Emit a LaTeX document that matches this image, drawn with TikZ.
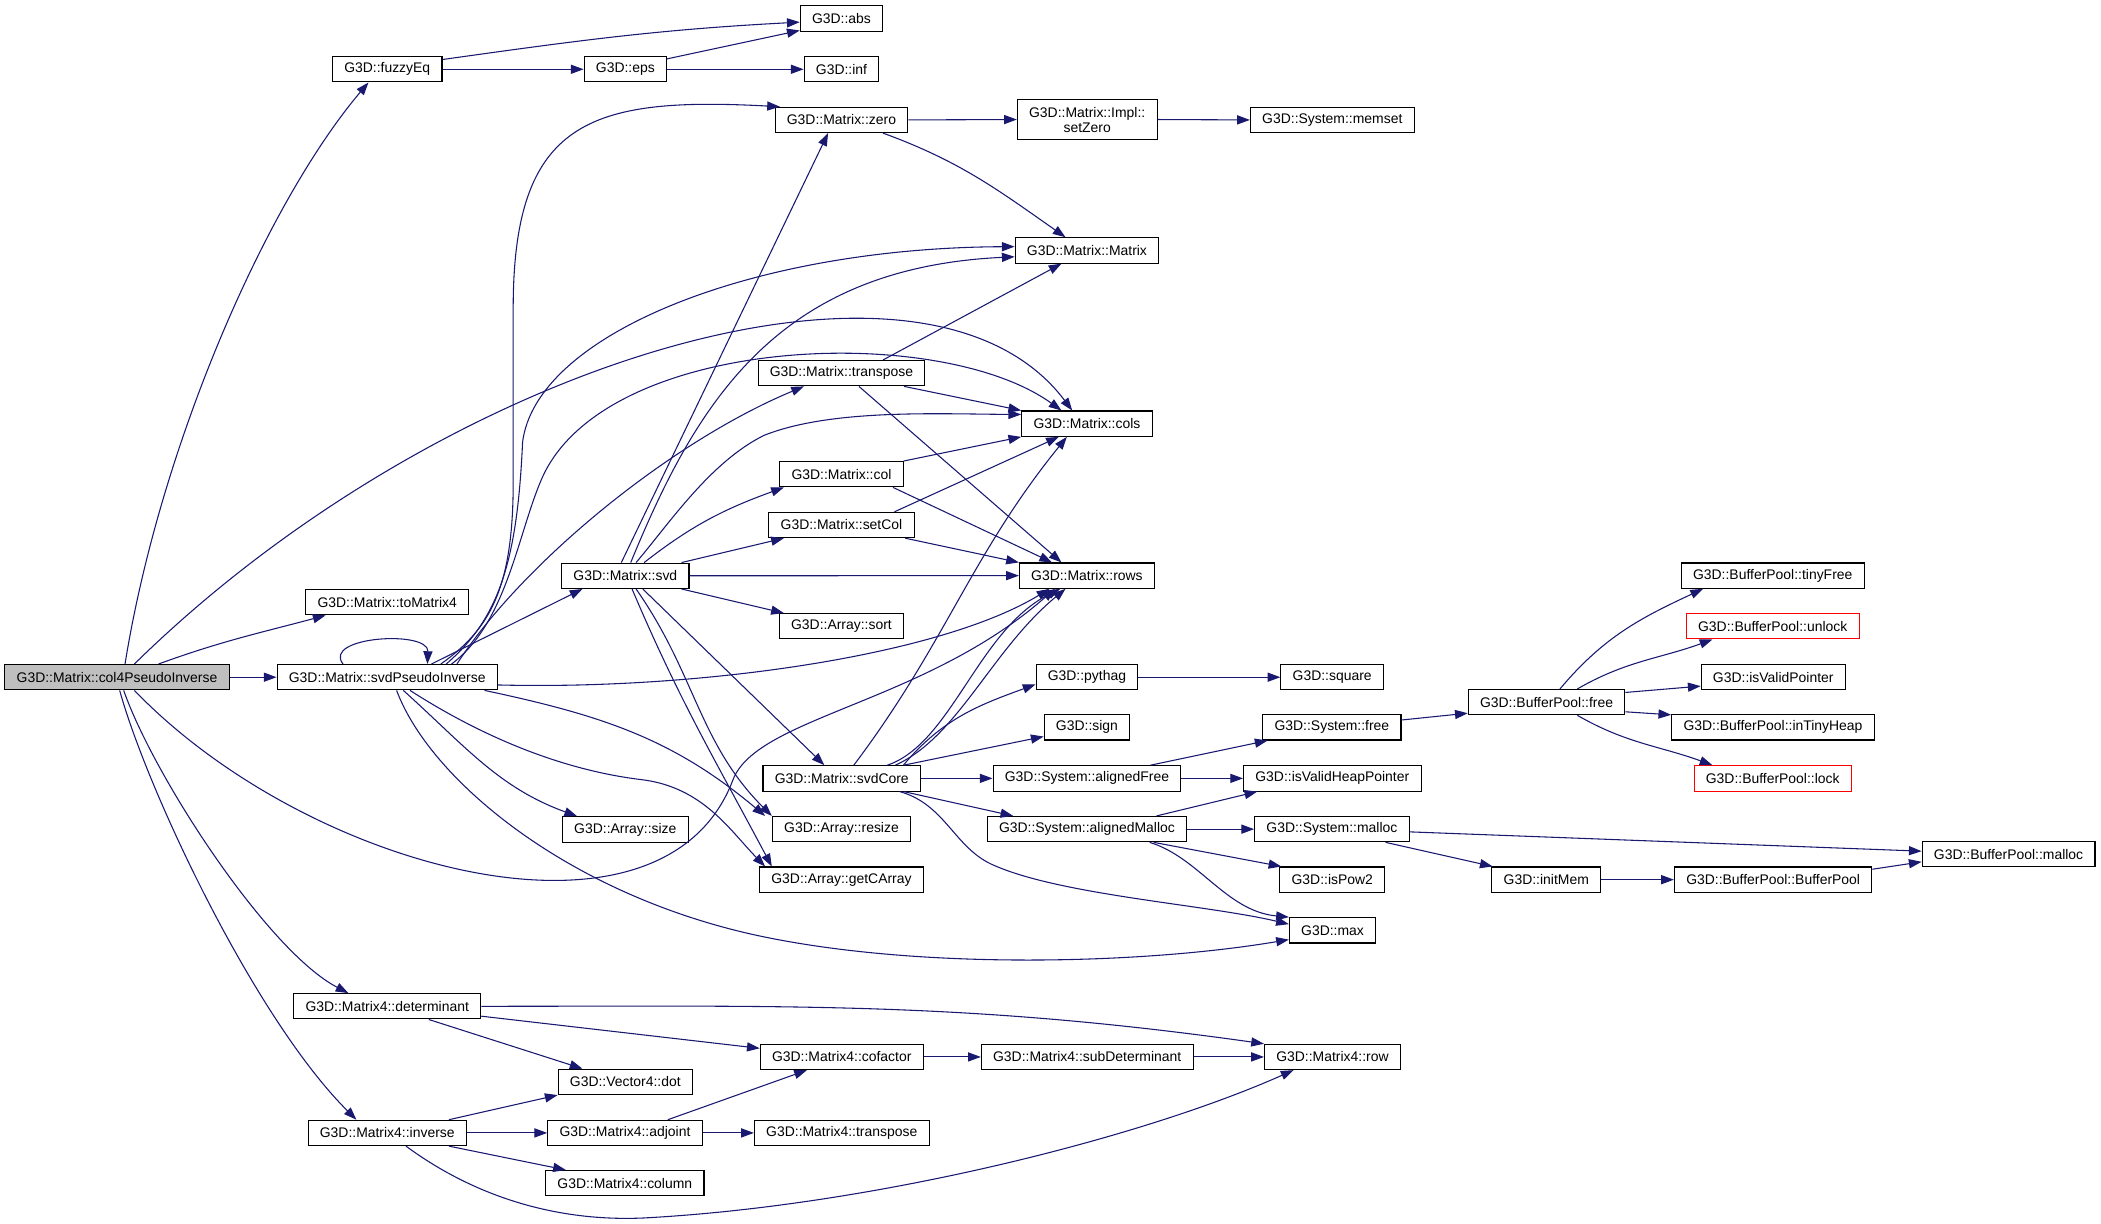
\documentclass[tikz,border=0pt]{standalone}
\usepackage{fontspec}
\setmainfont{Liberation Sans}
\usepackage{xcolor}
\usepackage{tikz}
\usetikzlibrary{arrows.meta}
\definecolor{edgeblue}{HTML}{191970}
\definecolor{rootgray}{HTML}{BFBFBF}

\begin{document}
\begin{tikzpicture}[x=1pt, y=1pt,
fn/.style={rectangle,draw=black,line width=0.8pt,fill=white,inner xsep=8.8pt,inner ysep=0pt,minimum height=18.9pt,font=\fontsize{10.4}{11.2}\selectfont},
rootfn/.style={fn,fill=rootgray},
redfn/.style={fn,draw=red},
paths/.style={-{Triangle[length=9.5pt,width=6.8pt]}, draw=edgeblue, line width=0.8pt}
]
\useasboundingbox (0,0) rectangle (1568,-913);

%create nodes
\node[rootfn] (col4) at (87.3,-505.4) {G3D::Matrix::col4PseudoInverse};
\node[fn] (fuzzyeq) at (289,-51.7) {G3D::fuzzyEq};
\node[fn] (tomatrix4) at (289,-449.4) {G3D::Matrix::toMatrix4};
\node[fn] (svdpinv) at (289,-505.4) {G3D::Matrix::svdPseudoInverse};
\node[fn] (det) at (289,-751) {G3D::Matrix4::determinant};
\node[fn] (inv) at (289,-845.5) {G3D::Matrix4::inverse};

\node[fn] (eps) at (466.7,-51.7) {G3D::eps};
\node[fn] (svd) at (466.7,-429.7) {G3D::Matrix::svd};
\node[fn] (size) at (466.7,-619) {G3D::Array::size};
\node[fn] (dot) at (466.7,-807.4) {G3D::Vector4::dot};
\node[fn] (adjoint) at (466.4,-845.5) {G3D::Matrix4::adjoint};
\node[fn] (column) at (466.3,-883) {G3D::Matrix4::column};

\node[fn] (abs) at (628,-13.8) {G3D::abs};
\node[fn] (inf) at (628,-51.7) {G3D::inf};
\node[fn] (zero) at (628,-89.5) {G3D::Matrix::zero};
\node[fn] (transpose) at (628,-278.5) {G3D::Matrix::transpose};
\node[fn] (col) at (628,-353.9) {G3D::Matrix::col};
\node[fn] (setcol) at (628,-391.8) {G3D::Matrix::setCol};
\node[fn] (sort) at (628,-467.4) {G3D::Array::sort};
\node[fn] (svdcore) at (628.2,-580.9) {G3D::Matrix::svdCore};
\node[fn] (resize) at (628,-618.8) {G3D::Array::resize};
\node[fn] (getcarray) at (628,-656.5) {G3D::Array::getCArray};
\node[fn] (cofactor) at (628.2,-788.8) {G3D::Matrix4::cofactor};
\node[fn] (transpose4) at (628.2,-845.5) {G3D::Matrix4::transpose};

\node[fn, align=center, minimum height=30.4pt] (setzero) at (811.4,-89.2) {G3D::Matrix::Impl::\\setZero};
\node[fn] (matrix) at (811.2,-186.9) {G3D::Matrix::Matrix};
\node[fn] (cols) at (811.2,-316.2) {G3D::Matrix::cols};
\node[fn] (rows) at (811.2,-429.6) {G3D::Matrix::rows};
\node[fn] (pythag) at (811.2,-505.4) {G3D::pythag};
\node[fn] (sign) at (811.2,-542.8) {G3D::sign};
\node[fn] (alignedfree) at (811.2,-580.9) {G3D::System::alignedFree};
\node[fn] (alignedmalloc) at (811.2,-618.8) {G3D::System::alignedMalloc};
\node[fn] (subdet) at (811.4,-788.8) {G3D::Matrix4::subDeterminant};

\node[fn] (memset) at (994.3,-89.5) {G3D::System::memset};
\node[fn] (square) at (994.2,-505.4) {G3D::square};
\node[fn] (sysfree) at (994,-542.8) {G3D::System::free};
\node[fn] (isvalidheap) at (994.3,-580.9) {G3D::isValidHeapPointer};
\node[fn] (sysmalloc) at (994,-618.8) {G3D::System::malloc};
\node[fn] (ispow2) at (994.3,-656.5) {G3D::isPow2};
\node[fn] (max) at (994.5,-694.3) {G3D::max};
\node[fn] (row4) at (994.4,-788.8) {G3D::Matrix4::row};

\node[fn] (bpfree) at (1154.2,-524) {G3D::BufferPool::free};
\node[fn] (initmem) at (1154,-656.5) {G3D::initMem};

\node[fn] (tinyfree) at (1323,-429.6) {G3D::BufferPool::tinyFree};
\node[redfn] (unlock) at (1323,-467.4) {G3D::BufferPool::unlock};
\node[fn] (isvalidptr) at (1323.4,-505.4) {G3D::isValidPointer};
\node[fn] (intinyheap) at (1323.2,-542.8) {G3D::BufferPool::inTinyHeap};
\node[redfn] (lock) at (1323,-580.9) {G3D::BufferPool::lock};
\node[fn] (bpctor) at (1323.3,-656.5) {G3D::BufferPool::BufferPool};

\node[fn] (bpmalloc) at (1499,-637.5) {G3D::BufferPool::malloc};

%draw paths from col4PseudoInverse
\draw[paths] ([xshift=6]col4.north) .. controls (120,-330) and (200,-150) .. ([xshift=-14]fuzzyeq.south);
\draw[paths] ([xshift=31]col4.north) to[out=20,in=195] ([xshift=-46]tomatrix4.south);
\draw[paths] (col4.east) -- (svdpinv.west);
\draw[paths] ([xshift=13]col4.north) .. controls (330,-270) and (690,-160) .. ([xshift=-11]cols.north);
\draw[paths] ([xshift=13]col4.south) .. controls (230,-650) and (495,-720) .. (547,-582) .. controls (565,-535) and (690,-525) .. ([xshift=-24]rows.south);
\draw[paths] ([xshift=5]col4.south) .. controls (115,-580) and (200,-710) .. ([xshift=-29]det.north);
\draw[paths] ([xshift=2]col4.south) .. controls (110,-590) and (190,-760) .. ([xshift=-23]inv.north);

%draw paths from fuzzyEq and eps
\draw[paths] (fuzzyeq.10) to[out=8,in=183] (abs.185);
\draw[paths] (fuzzyeq.east) -- (eps.west);
\draw[paths] (eps.14) -- (abs.196);
\draw[paths] (eps.east) -- (inf.west);

%draw paths from svdPseudoInverse
\draw[paths] ([xshift=-33]svdpinv.north) .. controls (240,-475) and (320,-470) .. ([xshift=30]svdpinv.north);
\draw[paths] ([xshift=33]svdpinv.north) -- ([xshift=-32]svd.south);
\draw[paths] ([xshift=40]svdpinv.north) .. controls (365,-470) and (383,-440) .. (383,-360) -- (383,-230) .. controls (383,-90) and (440,-72) .. ([xshift=4]zero.north west);
\draw[paths] ([xshift=44]svdpinv.north) .. controls (372,-462) and (386,-420) .. (390,-330) .. controls (400,-250) and (560,-185) .. (matrix.177);
\draw[paths] ([xshift=48]svdpinv.north) .. controls (378,-465) and (386,-400) .. (404,-358) .. controls (450,-250) and (700,-240) .. ([xshift=-19]cols.north);
\draw[paths] ([xshift=52]svdpinv.north) .. controls (390,-420) and (500,-330) .. ([xshift=-28]transpose.south);
\draw[paths] (svdpinv.-4) .. controls (520,-515) and (700,-490) .. ([xshift=-28]rows.south);
\draw[paths] ([xshift=12]svdpinv.south) to[out=-42,in=160] ([xshift=-36]size.north);
\draw[paths] ([xshift=-10]svdpinv.south east) to[out=-12,in=140] ([xshift=-57]resize.north);
\draw[paths] ([xshift=17]svdpinv.south) .. controls (360,-550) and (420,-575) .. (480,-582) .. controls (525,-588) and (545,-620) .. ([xshift=-57]getcarray.north);
\draw[paths] ([xshift=7]svdpinv.south) .. controls (320,-580) and (420,-665) .. (560,-697) .. controls (680,-724) and (850,-720) .. (max.192);

%draw paths from svd
\draw[paths] ([xshift=-3]svd.north) -- ([xshift=-10]zero.south);
\draw[paths] ([xshift=4]svd.north) .. controls (520,-300) and (580,-200) .. (matrix.185);
\draw[paths] ([xshift=8]svd.north) .. controls (500,-390) and (530,-345) .. (570,-325) .. controls (620,-305) and (700,-309) .. (cols.172);
\draw[paths] ([xshift=14]svd.north) to[out=38,in=200] ([xshift=-43]col.south);
\draw[paths] ([xshift=-6]svd.north east) -- ([xshift=-43]setcol.south);
\draw[paths] (svd.east) -- (rows.west);
\draw[paths] ([xshift=-6]svd.south east) -- ([xshift=-43]sort.north);
\draw[paths] ([xshift=13]svd.south) -- ([xshift=-13]svdcore.north);
\draw[paths] ([xshift=8]svd.south) to[out=-55,in=135] ([xshift=-52]resize.north);
\draw[paths] ([xshift=5]svd.south) to[out=-67,in=118] ([xshift=-52]getcarray.north);

%draw paths from zero and transpose
\draw[paths] (zero.east) -- (setzero.west);
\draw[paths] ([xshift=31]zero.south) to[out=-20,in=145] ([xshift=-16]matrix.north);
\draw[paths] (setzero.east) -- (memset.west);
\draw[paths] ([xshift=31]transpose.north) -- ([xshift=-19]matrix.south);
\draw[paths] ([xshift=-16]transpose.south east) -- (cols.north west);
\draw[paths] ([xshift=13]transpose.south) -- ([xshift=-19]rows.north);

%draw paths from col and setCol
\draw[paths] (col.north east) -- (cols.south west);
\draw[paths] ([xshift=-8]col.south east) -- ([xshift=-26]rows.north);
\draw[paths] ([xshift=-15]setcol.north east) -- ([xshift=-21]cols.south);
\draw[paths] ([xshift=-7]setcol.south east) -- (rows.north west);

%draw paths from svdCore
\draw[paths] ([xshift=9]svdcore.north) to[out=53,in=231] ([xshift=-15]cols.south);
\draw[paths] ([xshift=34]svdcore.north) .. controls (710,-555) and (730,-470) .. ([xshift=-20]rows.south);
\draw[paths] ([xshift=40]svdcore.north) .. controls (715,-550) and (740,-485) .. ([xshift=-16]rows.south);
\draw[paths] ([xshift=46]svdcore.north) to[out=50,in=200] (pythag.188);
\draw[paths] ([xshift=-13]svdcore.north east) -- (sign.192);
\draw[paths] (svdcore.east) -- (alignedfree.west);
\draw[paths] ([xshift=-13]svdcore.south east) -- ([xshift=-55]alignedmalloc.north);
\draw[paths] ([xshift=-16]svdcore.south east) .. controls (705,-600) and (712,-632) .. (740,-645) .. controls (790,-668) and (900,-675) .. (max.172);

%draw paths of the memory functions
\draw[paths] (pythag.east) -- (square.west);
\draw[paths] ([xshift=-23]alignedfree.north east) -- ([xshift=-48]sysfree.south);
\draw[paths] (alignedfree.east) -- (isvalidheap.west);
\draw[paths] ([xshift=-23]alignedmalloc.north east) -- ([xshift=-56]isvalidheap.south);
\draw[paths] (alignedmalloc.east) -- (sysmalloc.west);
\draw[paths] ([xshift=-25]alignedmalloc.south east) -- ([xshift=-38]ispow2.north);
\draw[paths] ([xshift=-28]alignedmalloc.south east) .. controls (895,-640) and (915,-680) .. (max.north west);
\draw[paths] (sysfree.6) -- (bpfree.188);
\draw[paths] ([xshift=10]bpfree.north) to[out=50,in=205] ([xshift=-52]tinyfree.south);
\draw[paths] ([xshift=23]bpfree.north) to[out=30,in=200] ([xshift=-45]unlock.south);
\draw[paths] (bpfree.7) -- (isvalidptr.187);
\draw[paths] (bpfree.-7) -- (intinyheap.173);
\draw[paths] ([xshift=23]bpfree.south) to[out=-30,in=160] ([xshift=-45]lock.north);
\draw[paths] (sysmalloc.-2) -- (bpmalloc.178);
\draw[paths] ([xshift=-18]sysmalloc.south east) -- ([xshift=-40]initmem.north);
\draw[paths] (initmem.east) -- (bpctor.west);
\draw[paths] (bpctor.6) -- (bpmalloc.185);

%draw paths of the Matrix4 functions
\draw[paths] (det.east) to[out=0,in=172] (row4.north west);
\draw[paths] (det.-6) -- (cofactor.174);
\draw[paths] ([xshift=31]det.south) -- ([xshift=-32]dot.north);
\draw[paths] ([xshift=46]inv.north) -- (dot.south west);
\draw[paths] (inv.east) -- (adjoint.west);
\draw[paths] ([xshift=46]inv.south) -- ([xshift=-44]column.north);
\draw[paths] ([xshift=14]inv.south) .. controls (350,-890) and (410,-912) .. (480,-909) .. controls (650,-900) and (850,-850) .. ([xshift=-29]row4.south);
\draw[paths] ([xshift=32]adjoint.north) -- ([xshift=-26]cofactor.south);
\draw[paths] (adjoint.east) -- (transpose4.west);
\draw[paths] (cofactor.east) -- (subdet.west);
\draw[paths] (subdet.east) -- (row4.west);

\end{tikzpicture}
\end{document}
